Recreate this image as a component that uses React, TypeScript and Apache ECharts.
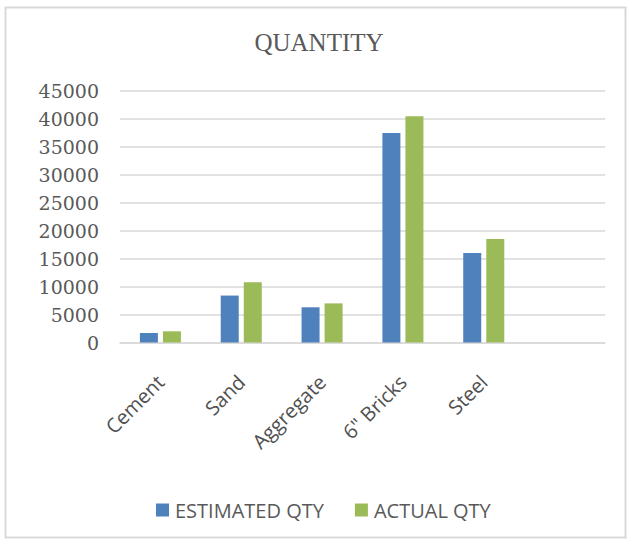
import React, { useEffect, useRef } from "react";
import * as echarts from "echarts";

const categories = ["Cement", "Sand", "Aggregate", "6\" Bricks", "Steel", ""];
const estimatedQty = [1700, 8400, 6300, 37500, 16000, null];
const actualQty = [2000, 10800, 7000, 40500, 18500, null];
const yTicks = { min: 0, max: 45000, interval: 5000 };

export default function App() {
  const ref = useRef<HTMLDivElement>(null);
  useEffect(() => {
    if (!ref.current) return;
    const chart = echarts.init(ref.current, null, { renderer: "svg" });
    chart.setOption({
      animation: false,
      backgroundColor: "#ffffff",
      title: {
        text: "QUANTITY",
        left: 319,
        textAlign: "center",
        top: 30,
        padding: 0,
        textStyle: {
          fontFamily: "Liberation Serif",
          fontSize: 25,
          fontWeight: "normal",
          color: "#595959",
          lineHeight: 25,
        },
      },
      graphic: [
        {
          type: "rect",
          shape: { x: 5.5, y: 7.5, width: 620, height: 530 },
          style: { fill: "none", stroke: "#d9d9d9", lineWidth: 2 },
          silent: true,
        },
      ],
      legend: {
        left: 151,
        top: 495,
        itemWidth: 13,
        itemHeight: 13,
        itemGap: 31,
        icon: "rect",
        textStyle: {
          fontFamily: "Open Sans",
          fontSize: 20,
          color: "#595959",
          padding: [0, 0, 0, 1],
        },
        data: ["ESTIMATED QTY", "ACTUAL QTY"],
      },
      grid: { left: 120, right: 24, top: 91, bottom: 200.5, containLabel: false },
      xAxis: {
        type: "category",
        data: categories,
        axisLine: { show: true, lineStyle: { color: "#d9d9d9", width: 1.5 } },
        axisTick: { show: false },
        axisLabel: {
          interval: 0,
          rotate: 45,
          margin: 36,
          fontFamily: "Open Sans",
          fontSize: 20,
          color: "#505050",
        },
      },
      yAxis: {
        type: "value",
        min: yTicks.min,
        max: yTicks.max,
        interval: yTicks.interval,
        axisLine: { show: false },
        axisTick: { show: false },
        splitLine: { show: true, lineStyle: { color: "#d9d9d9", width: 1.5 } },
        axisLabel: {
          margin: 21,
          fontFamily: "DejaVu Serif",
          fontSize: 19,
          color: "#595959",
          formatter: (v: number) => String(v),
        },
      },
      series: [
        {
          name: "ESTIMATED QTY",
          type: "bar",
          data: estimatedQty,
          barWidth: 18,
          barGap: "28%",
          itemStyle: { color: "#4f81bd" },
        },
        {
          name: "ACTUAL QTY",
          type: "bar",
          data: actualQty,
          barWidth: 18,
          barGap: "28%",
          itemStyle: { color: "#9bbb59" },
        },
      ],
    });
    return () => chart.dispose();
  }, []);
  return (
    <div
      ref={ref}
      style={{ position: "fixed", left: 0, top: 0, width: 629, height: 543 }}
    />
  );
}
